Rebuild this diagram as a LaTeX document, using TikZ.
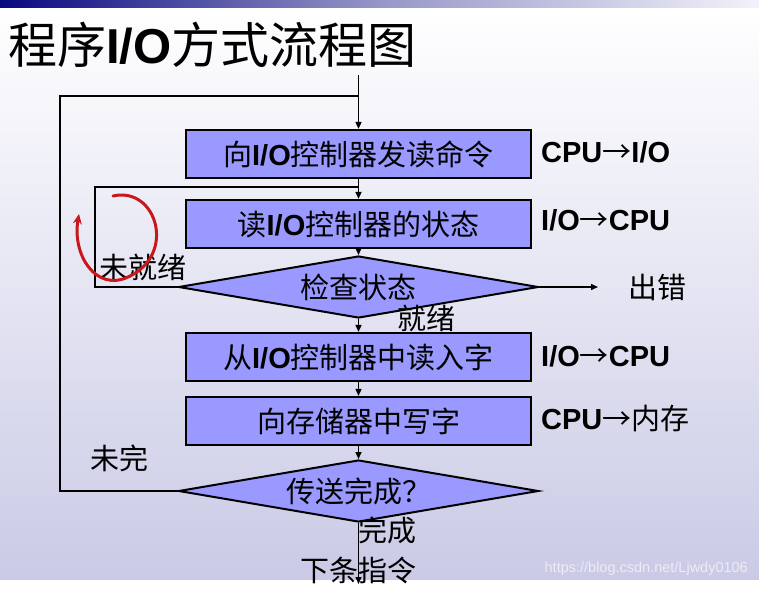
\documentclass[tikz,border=0pt]{standalone}
\usepackage{fontspec}
\setmainfont{Liberation Sans}
\newfontfamily\cjk{Noto Sans CJK SC}
\newfontfamily\lat{Liberation Sans}
\usetikzlibrary{shapes.geometric,arrows.meta}
\definecolor{boxblue}{RGB}{153,153,255}
\definecolor{bgbot}{RGB}{202,202,230}
\definecolor{navyzero}{RGB}{8,8,128}
\definecolor{barmid}{RGB}{150,150,200}
\definecolor{barright}{RGB}{242,242,250}
\definecolor{pen}{RGB}{200,24,30}
\definecolor{wmark}{RGB}{236,236,246}
\newcommand\IO{{\lat\bfseries I/O}}
\newcommand\TT[1]{{\lat\bfseries #1}}
\newcommand\rarr{{\cjk →}}
\begin{document}
\begin{tikzpicture}[x=1pt,y=-1pt,
  txt/.style={inner sep=0pt, text height=24.4pt, text depth=2.3pt, font=\cjk\fontsize{29}{29}\selectfont},
  box/.style={txt, draw=black, line width=2.2pt, fill=boxblue, minimum width=345pt, minimum height=48pt},
  dia/.style={txt, diamond, draw=black, line width=2pt, fill=boxblue, aspect=5.8, minimum width=360pt, minimum height=62pt},
  conn/.style={line width=1.5pt, draw=black},
  arr/.style={conn, -{Triangle[length=7pt,width=6pt]}},
]
\fill[white] (0,0) rectangle (759,589);
\useasboundingbox (0,0) rectangle (759,589);
\shade[top color=white, bottom color=bgbot] (0,7) rectangle (759,579);
\shade[left color=navyzero, right color=barright, middle color=barmid] (0,0) rectangle (759,7);

% title
\node[anchor=base west, inner sep=0pt, font=\cjk\fontsize{49}{49}\selectfont] (title) at (8,63) {程序\IO 方式流程图};

% boxes and decisions
\node[box] (b1) at (358.5,154) {向\IO 控制器发读命令};
\node[box] (b2) at (358.5,224) {读\IO 控制器的状态};
\node[dia] (d1) at (358.5,287) {检查状态};
\node[box] (b3) at (358.5,357) {从\IO 控制器中读入字};
\node[box] (b4) at (358.5,421) {向存储器中写字};
\node[dia] (d2) at (358.5,491) {传送完成？};

% helper coordinates
\coordinate (top) at (358.5,75);
\coordinate (j1) at (358.5,96);
\coordinate (lc) at (60,96);
\coordinate (j2) at (358.5,187);
\coordinate (lc2) at (95,187);
\coordinate (err) at (598,287);
\coordinate (nx) at (358.5,584);

% connectors
\draw[arr] (top) -- (b1.north);
\draw[conn] (d2.west) -| (lc) -- (j1);
\draw[arr] (b1.south) -- (b2.north);
\draw[conn] (d1.west) -| (lc2) -- (j2);
\draw[arr] (b2.south) -- (d1.north);
\draw[arr] (d1.east) -- (err);
\draw[arr] (d1.south) -- (b3.north);
\draw[arr] (b3.south) -- (b4.north);
\draw[arr] (b4.south) -- (d2.north);
\draw[arr] (d2.south) -- (nx);

% labels
\node[txt, anchor=west] (l1) at (541,151) {\TT{CPU}\rarr\TT{I/O}};
\node[txt, anchor=west] (l2) at (541,219) {\TT{I/O}\rarr\TT{CPU}};
\node[txt, anchor=west] (l3) at (628,287) {出错};
\node[txt, anchor=west] (l4) at (99,267) {未就绪};
\node[txt, anchor=west] (l5) at (397,318) {就绪};
\node[txt, anchor=west] (l6) at (541,355) {\TT{I/O}\rarr\TT{CPU}};
\node[txt, anchor=west] (l7) at (541,418) {\TT{CPU}\rarr 内存};
\node[txt, anchor=west] (l8) at (90,458) {未完};
\node[txt, anchor=west] (l9) at (358,530) {完成};
\node[txt, anchor=west] (l10) at (300,570) {下条指令};

% watermark
\node[anchor=east, inner sep=0pt, font=\lat\fontsize{14.5}{14.5}\selectfont, text=wmark] (wm) at (748,569) {https://blog.csdn.net/Ljwdy0106};

% red hand-drawn annotation
\draw[pen, line width=3pt, line cap=round, -{Stealth[length=10pt,width=9pt]}] (113,196) .. controls (157,186) and (177,255) .. (128,277) .. controls (96,292) and (72,255) .. (79,214);
\end{tikzpicture}
\end{document}
